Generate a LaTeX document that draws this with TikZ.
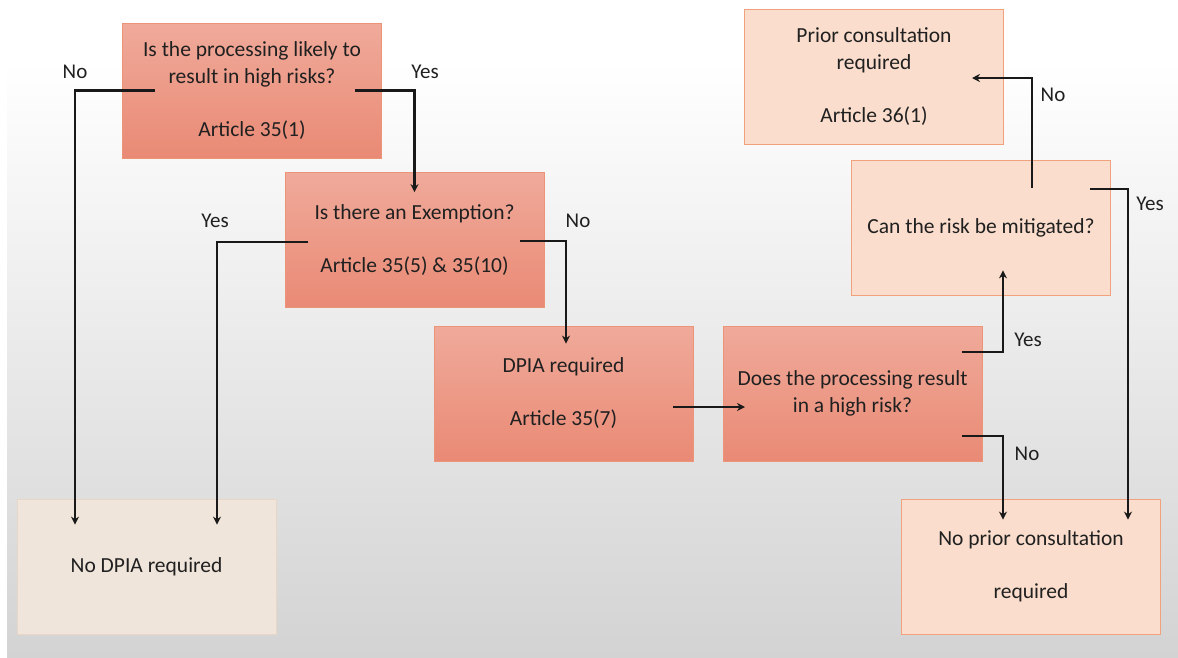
\documentclass[tikz,border=0pt]{standalone}
\usepackage{fontspec}
\setmainfont{Carlito}
\usetikzlibrary{arrows.meta}
\definecolor{txt}{HTML}{202020}
\definecolor{redtop}{HTML}{F0AA9A}
\definecolor{redbot}{HTML}{E98A75}
\definecolor{redline}{HTML}{EB9477}
\definecolor{lightfill}{HTML}{FADDCC}
\definecolor{lightline}{HTML}{F0A27F}
\definecolor{beigefill}{HTML}{F0E5DA}
\definecolor{beigeline}{HTML}{EAD6C6}
\definecolor{bgbot}{HTML}{D3D3D3}
\tikzset{
  boxbase/.style={rectangle, minimum width=259pt, minimum height=135pt, align=center,
    text=txt, font=\fontsize{21.5}{27}\selectfont, line width=0.8pt, inner sep=2pt},
  redbox/.style={boxbase, draw=redline, top color=redtop, bottom color=redbot},
  lightbox/.style={boxbase, draw=lightline, fill=lightfill},
  beigebox/.style={boxbase, draw=beigeline, fill=beigefill},
  conn/.style={line width=2.4pt, draw=black!90, -{Stealth[length=8pt,width=8pt]}},
  lbl/.style={text=txt, font=\fontsize{21}{24}\selectfont, inner sep=1pt}
}
\begin{document}
\begin{tikzpicture}[x=1pt,y=-1pt]
\useasboundingbox (0,0) rectangle (1178,657);
\fill[white] (0,0) rectangle (1178,657);
\shade[top color=white, bottom color=bgbot] (7,62) rectangle (1178,657);

\node[redbox] (b1) at (252,90.5) {Is the processing likely to\\result in high risks?\\[26pt]Article 35(1)};
\node[redbox] (b2) at (414.5,240) {Is there an Exemption?\\[26pt]Article 35(5) \& 35(10)};
\node[redbox] (b3) at (563.5,393.5) {DPIA required\\[26pt]Article 35(7)};
\node[redbox] (b4) at (852.5,393.5) {Does the processing result\\in a high risk?};
\node[lightbox] (b5) at (874,77) {Prior consultation\\required\\[26pt]Article 36(1)};
\node[lightbox] (b6) at (981,227.5) {Can the risk be mitigated?};
\node[lightbox] (b7) at (1031,566.5) {No prior consultation\\[26pt]required};
\node[beigebox] (b8) at (146.5,566.5) {No DPIA required};

\draw[conn] ([xshift=-97pt]b1.center) -| ([xshift=-71.5pt,yshift=-26pt]b8.north);
\draw[conn] ([xshift=103pt]b1.center) -| ([yshift=-20pt]b2.north);
\draw[conn] ([xshift=-106.5pt,yshift=-2pt]b2.center) -| ([xshift=70.5pt,yshift=-26pt]b8.north);
\draw[conn] ([xshift=105.5pt,yshift=-1pt]b2.center) -| ([xshift=2.5pt,yshift=-18pt]b3.north);
\draw[conn] ([xshift=109.5pt,yshift=-13.5pt]b3.center) -- ([xshift=-107.5pt,yshift=-13.5pt]b4.center);
\draw[conn] ([xshift=109.5pt,yshift=41.5pt]b4.center) -| ([xshift=22pt,yshift=25pt]b6.south);
\draw[conn] ([xshift=109.5pt,yshift=-42.5pt]b4.center) -| ([xshift=-28pt,yshift=-21pt]b7.north);
\draw[conn] ([xshift=51pt,yshift=39.5pt]b6.center) |- ([xshift=98pt,yshift=-1pt]b5.center);
\draw[conn] ([xshift=109pt,yshift=38.5pt]b6.center) -| ([xshift=97pt,yshift=-21pt]b7.north);

\node[lbl] (l1) at (75,72) {No};
\node[lbl] (l2) at (425,72) {Yes};
\node[lbl] (l3) at (215,221) {Yes};
\node[lbl] (l4) at (578,221) {No};
\node[lbl] (l5) at (1028,340) {Yes};
\node[lbl] (l6) at (1027,454) {No};
\node[lbl] (l7) at (1053,95) {No};
\node[lbl] (l8) at (1150,204) {Yes};
\end{tikzpicture}
\end{document}
